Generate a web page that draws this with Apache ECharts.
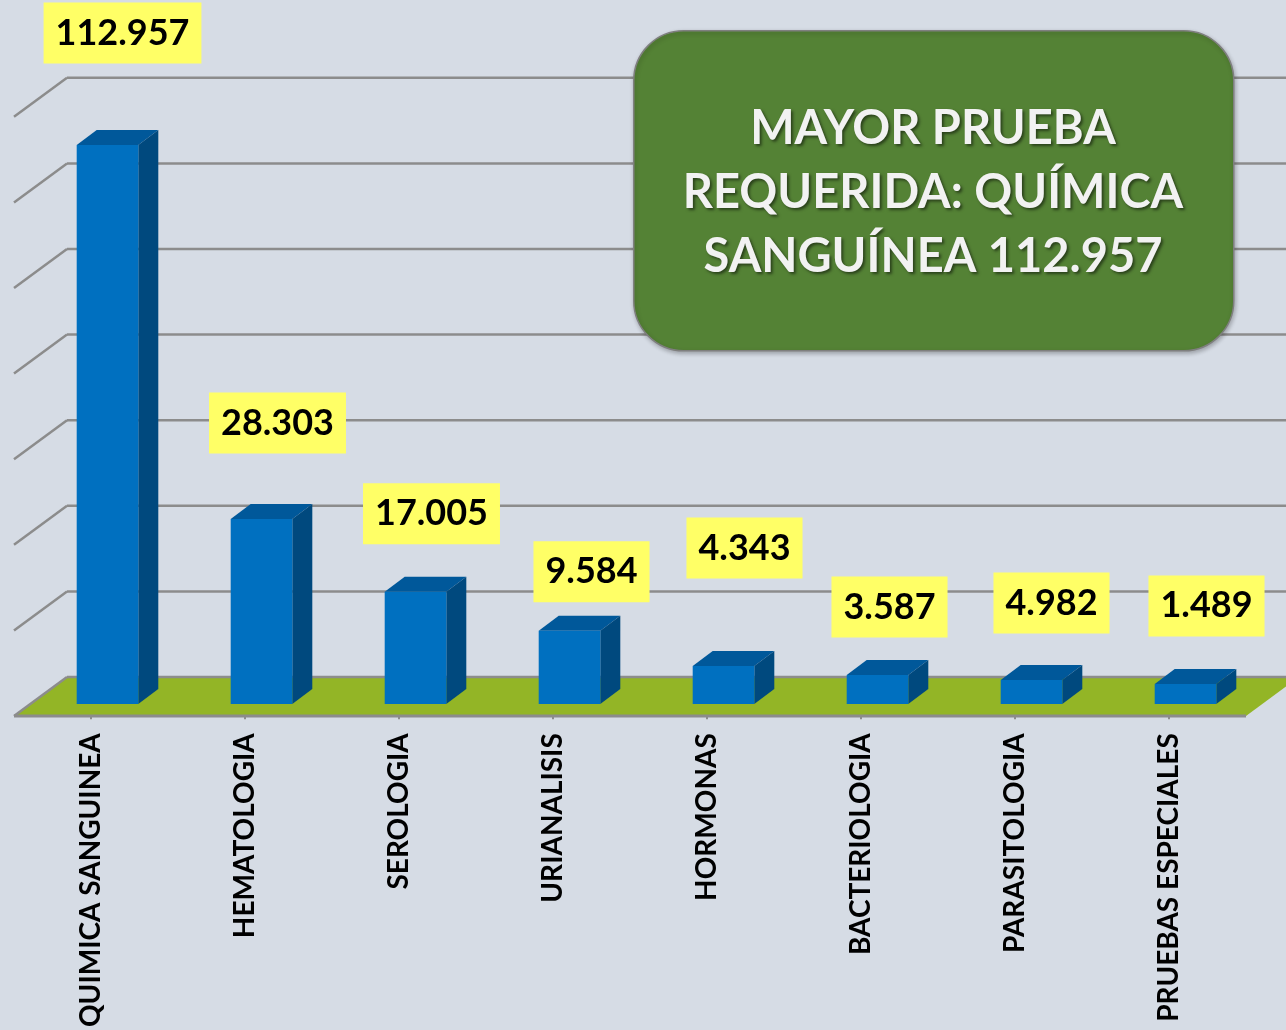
<!DOCTYPE html>
<html>
<head>
<meta charset="utf-8">
<script src="https://cdn.jsdelivr.net/npm/echarts@6/dist/echarts.min.js"></script>
<style>
  html, body { margin: 0; padding: 0; background: #d6dce5; }
  #chart { width: 1286px; height: 1030px; }
</style>
</head>
<body>
<div id="chart"></div>
<script>
// datos
const categorias = ['QUIMICA SANGUINEA', 'HEMATOLOGIA', 'SEROLOGIA', 'URIANALISIS',
  'HORMONAS', 'BACTERIOLOGIA', 'PARASITOLOGIA', 'PRUEBAS ESPECIALES'];
// altura de cada barra tal como se ve en el grafico
const alturas = [130600, 43200, 26200, 17100, 8900, 6800, 5600, 4700];
// cifras escritas en los recuadros amarillos
const totales = [112957, 28303, 17005, 9584, 4343, 3587, 4982, 1489];
// marcas del eje de valores (lineas de la pared del fondo)
const marcasY = [0, 20000, 40000, 60000, 80000, 100000, 120000, 140000];

// desplazamiento de cada recuadro respecto a la cara frontal de la barra (px)
const etiquetaDx = [15, 16, 16, 22, 21, 12, 20, 21];
const etiquetaDy = [-112, -96, -78, -59, -118, -68, -77, -78];

// perspectiva
const FONDO = [36.5, -27];   // pared del fondo respecto al frente de las barras
const FRENTE = [-16.5, 12];  // borde delantero del piso
const PROF = [20, -15];      // profundidad de cada barra

const fmt = (n) => String(n).replace(/\B(?=(\d{3})+(?!\d))/g, '.');

const chart = echarts.init(document.getElementById('chart'));

function pared(params, api) {
  const cs = params.coordSys;
  const v = api.value(1);
  const y = api.coord([0, v])[1];
  const gris = '#8c8c8c';
  const xl = cs.x, xr = cs.x + cs.width;
  if (v === 0) {
    return {
      type: 'group',
      children: [
        { type: 'polygon', shape: { points: [
            [xl + FRENTE[0], y + FRENTE[1]], [xr + FRENTE[0], y + FRENTE[1]],
            [xr + FONDO[0], y + FONDO[1]], [xl + FONDO[0], y + FONDO[1]]] },
          style: { fill: '#93b526' } },
        { type: 'line', shape: { x1: xl + FONDO[0], y1: y + FONDO[1], x2: xr + FONDO[0] + 40, y2: y + FONDO[1] },
          style: { stroke: gris, lineWidth: 2.5 } },
        { type: 'line', shape: { x1: xl + FRENTE[0], y1: y + FRENTE[1], x2: xl + FONDO[0], y2: y + FONDO[1] },
          style: { stroke: gris, lineWidth: 2.5 } },
        { type: 'line', shape: { x1: xl + FRENTE[0], y1: y + FRENTE[1], x2: xr + FRENTE[0], y2: y + FRENTE[1] },
          style: { stroke: gris, lineWidth: 3 } }
      ]
    };
  }
  return {
    type: 'group',
    children: [
      { type: 'line', shape: { x1: xl + FONDO[0], y1: y + FONDO[1], x2: xr + FONDO[0] + 40, y2: y + FONDO[1] },
        style: { stroke: gris, lineWidth: 2.5 } },
      { type: 'line', shape: { x1: xl + FRENTE[0], y1: y + FRENTE[1], x2: xl + FONDO[0], y2: y + FONDO[1] },
        style: { stroke: gris, lineWidth: 2.5 } }
    ]
  };
}

function barra3d(params, api) {
  const i = api.value(0);
  const base = api.coord([i, 0]);
  const top = api.coord([i, api.value(1)]);
  const w = api.size([1, 0])[0] * 0.4;
  const x0 = base[0] - w / 2, x1 = base[0] + w / 2;
  const y0 = base[1], y1 = top[1];
  const [dx, dy] = PROF;
  return {
    type: 'group',
    children: [
      { type: 'polygon', shape: { points: [[x0, y1], [x1, y1], [x1 + dx, y1 + dy], [x0 + dx, y1 + dy]] },
        style: { fill: '#00589a' } },
      { type: 'polygon', shape: { points: [[x1, y0], [x1 + dx, y0 + dy], [x1 + dx, y1 + dy], [x1, y1]] },
        style: { fill: '#00497e' } },
      { type: 'rect', shape: { x: x0, y: y1, width: w, height: y0 - y1 },
        style: { fill: '#0070c0' } },
      { type: 'text', z2: 10,
        x: base[0] + etiquetaDx[i], y: y1 + etiquetaDy[i],
        style: {
          text: fmt(totales[i]),
          font: 'bold 36px Lato',
          fill: '#000000',
          backgroundColor: '#ffff66',
          padding: [12, 12, 12, 12],
          lineHeight: 37,
          align: 'center',
          verticalAlign: 'middle'
        } }
    ]
  };
}

chart.setOption({
  backgroundColor: '#d6dce5',
  animation: false,
  grid: [
    { left: 30.5, right: 23.5, top: 104.8, bottom: 326 },
    { left: 14, right: 40, top: 116.8, bottom: 314 }
  ],
  xAxis: [
    { type: 'category', gridIndex: 0, data: categorias, show: false },
    {
      type: 'category', gridIndex: 1, data: categorias,
      axisLine: { show: false },
      axisTick: { show: true, alignWithLabel: true, length: 8, lineStyle: { color: '#8c8c8c', width: 2 } },
      axisLabel: {
        interval: 0, rotate: 90, margin: 22,
        fontFamily: 'Lato', fontWeight: 'bold', fontSize: 28, color: '#000000'
      }
    }
  ],
  yAxis: [
    { type: 'value', gridIndex: 0, min: 0, max: 140000, interval: 20000, show: false },
    { type: 'value', gridIndex: 1, min: 0, max: 140000, interval: 20000, show: false }
  ],
  series: [
    {
      type: 'custom', xAxisIndex: 0, yAxisIndex: 0,
      renderItem: pared,
      encode: { x: 0, y: 1 },
      data: marcasY.map((v) => [0, v]),
      silent: true
    },
    {
      type: 'custom', xAxisIndex: 0, yAxisIndex: 0,
      renderItem: barra3d,
      encode: { x: 0, y: 1 },
      data: alturas.map((v, i) => [i, v])
    }
  ],
  graphic: [
    {
      type: 'rect', left: 633, top: 30, z: 100,
      shape: { width: 600, height: 320, r: 50 },
      style: { fill: '#548235', stroke: '#7f7f7f', lineWidth: 1.5,
        shadowColor: 'rgba(0,0,0,0.25)', shadowBlur: 4, shadowOffsetX: 1, shadowOffsetY: 2 }
    },
    {
      type: 'text', x: 933, y: 193, z: 101,
      style: {
        text: 'MAYOR PRUEBA\nREQUERIDA: QUÍMICA\nSANGUÍNEA 112.957',
        font: 'bold 47px Lato', lineHeight: 64,
        fill: '#f2f2f2', align: 'center', verticalAlign: 'middle',
        textShadowColor: 'rgba(0,0,0,0.5)', textShadowBlur: 3,
        textShadowOffsetX: 2, textShadowOffsetY: 2
      }
    }
  ]
});
</script>
</body>
</html>
